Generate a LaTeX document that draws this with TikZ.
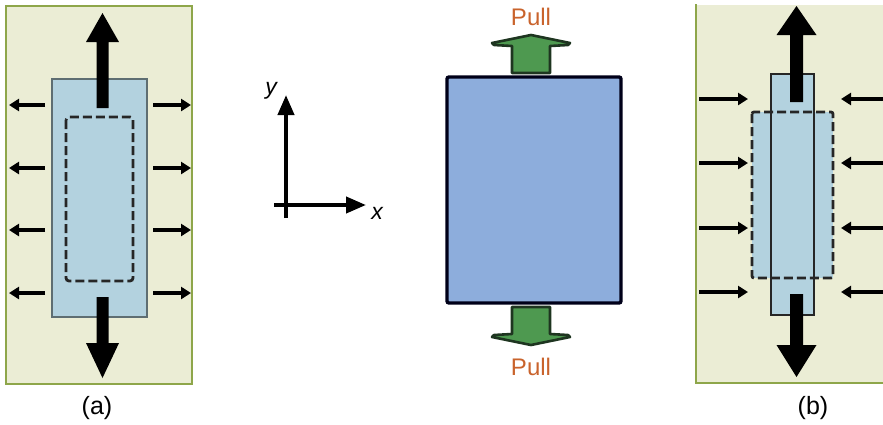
\documentclass[tikz,border=0pt]{standalone}
\usepackage{fontspec}
\setmainfont{Liberation Sans}
\usetikzlibrary{arrows.meta}
\definecolor{panelfill}{HTML}{EBEDD5}
\definecolor{panelline}{HTML}{8EA64A}
\definecolor{lblue}{HTML}{B3D2DF}
\definecolor{lblueline}{HTML}{5E6E72}
\definecolor{mblue}{HTML}{8DADDC}
\definecolor{garrow}{HTML}{4E9950}
\definecolor{garrowline}{HTML}{1E3520}
\definecolor{pullc}{HTML}{C9632C}
\tikzset{
  panelbox/.style={fill=panelfill, draw=panelline, line width=1.8pt},
  smallarr/.style={line width=3.6pt, -{Triangle[length=10pt,width=12pt]}},
  bigarr/.style={fill=black},
  dashbox/.style={draw=black!85, line width=2.8pt, dash pattern=on 9pt off 4pt},
  greenarr/.style={fill=garrow, draw=garrowline, line width=2.6pt, line join=round},
  lbl/.style={font=\fontsize{25}{28}\selectfont, inner sep=0pt},
  pull/.style={font=\fontsize{24}{28}\selectfont, text=pullc, inner sep=0pt},
  axis/.style={line width=4pt, -{Triangle[length=20pt,width=16pt]}}
}
\begin{document}
\begin{tikzpicture}[x=1pt,y=-1pt]
\useasboundingbox (0,0) rectangle (883,424);
% ---------- panel (a)
\draw[panelbox] (6,6) rectangle (192,384);
\draw[fill=lblue, draw=lblueline, line width=1.4pt] (52,79) rectangle (147,317);
\draw[dashbox, rounded corners=3pt] (66,117) rectangle (133,281);
\foreach \yy in {105,168,230,293}{
  \coordinate (al\yy) at (45,\yy); \coordinate (alt\yy) at (9,\yy);
  \coordinate (ar\yy) at (153,\yy); \coordinate (art\yy) at (191,\yy);
  \draw[smallarr] (al\yy) -- (alt\yy);
  \draw[smallarr] (ar\yy) -- (art\yy);
}
\fill[bigarr] (96.5,108)--(96.5,42)--(86,42)--(102.5,13)--(119,42)--(108.5,42)--(108.5,108)--cycle;
\fill[bigarr] (96.5,297)--(96.5,343)--(86,343)--(102.5,378)--(119,343)--(108.5,343)--(108.5,297)--cycle;
\node[lbl] (la) at (97,408) {(a)};
% ---------- axes
\coordinate (o) at (286,205);
\coordinate (ybot) at (286,218);
\coordinate (ytip) at (286,95);
\coordinate (xleft) at (274,205);
\coordinate (xtip) at (366,205);
\draw[axis] (ybot) -- (ytip);
\draw[axis] (xleft) -- (xtip);
\node[font=\fontsize{23}{26}\selectfont\itshape, inner sep=0pt] (ylab) at (271,91) {y};
\node[font=\fontsize{23}{26}\selectfont\itshape, inner sep=0pt] (xlab) at (377,213) {x};
% ---------- middle
\draw[fill=mblue, draw=black!90!blue, line width=3.4pt, rounded corners=2pt] (447,77) rectangle (621,303);
\draw[greenarr] (512,73)--(512,46)--(494,45)--(492,43)--(531,35)--(570,43)--(568,45)--(550,46)--(550,73)--cycle;
\draw[greenarr] (512,307)--(512,334)--(494,335)--(492,337)--(531,345)--(570,337)--(568,335)--(550,334)--(550,307)--cycle;
\node[pull] (pt) at (531,17) {Pull};
\node[pull] (pb) at (531,367) {Pull};
% ---------- panel (b)
\fill[panelfill] (696,5) rectangle (883,383);
\draw[panelline, line width=1.8pt] (696,4) -- (696,383) -- (883,383);
\fill[lblue] (752,112) rectangle (833,278);
\draw[fill=lblue, draw=black!85, line width=2.4pt] (771,74) rectangle (814,315);
\draw[dashbox, rounded corners=2pt] (752,112) rectangle (833,278);
\foreach \yy in {99,163,228,292}{
  \coordinate (bl\yy) at (699,\yy); \coordinate (blt\yy) at (748,\yy);
  \coordinate (br\yy) at (884,\yy); \coordinate (brt\yy) at (841,\yy);
  \draw[smallarr] (bl\yy) -- (blt\yy);
  \draw[smallarr] (br\yy) -- (brt\yy);
}
\fill[bigarr] (790,102)--(790,35)--(776.5,35)--(796.5,6)--(816.5,35)--(803,35)--(803,102)--cycle;
\fill[bigarr] (790,294)--(790,345)--(776.5,345)--(796.5,377)--(816.5,345)--(803,345)--(803,294)--cycle;
\node[lbl] (lb) at (813,408) {(b)};
\end{tikzpicture}
\end{document}
